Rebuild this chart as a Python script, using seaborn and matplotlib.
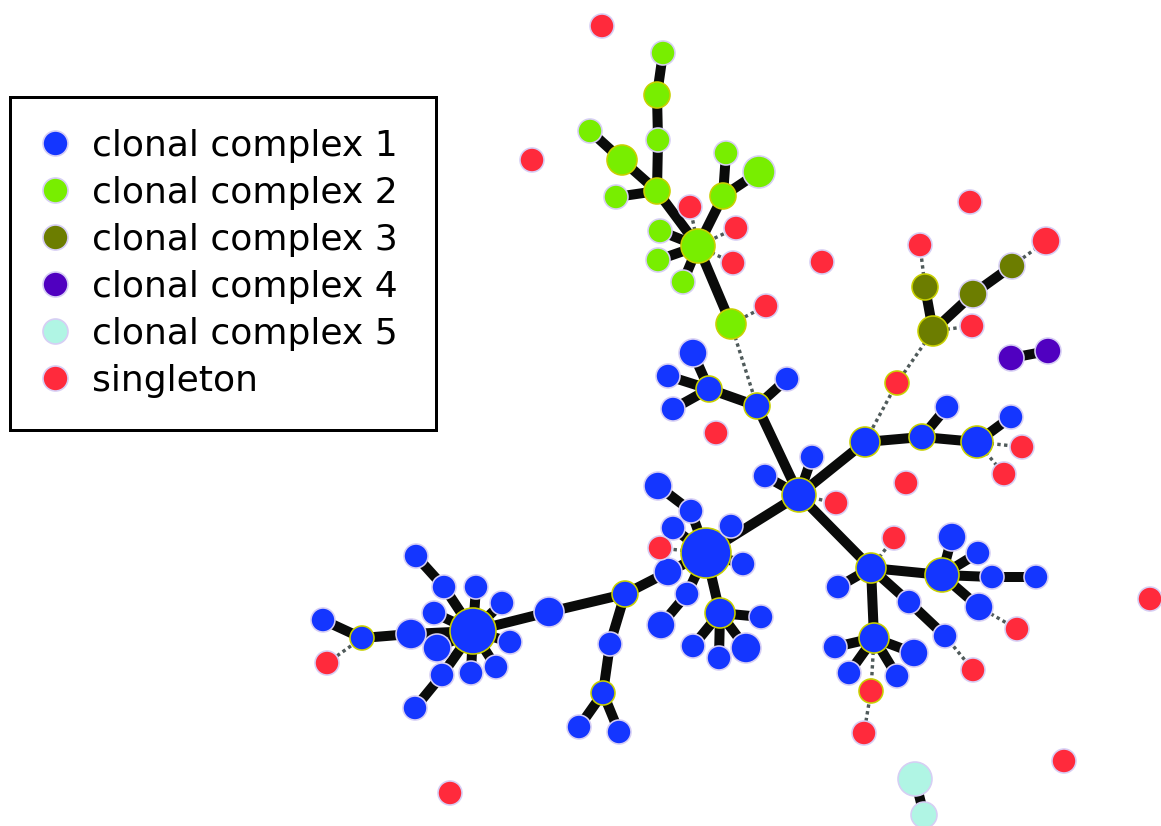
import matplotlib
matplotlib.use("Agg")
import matplotlib.pyplot as plt
from matplotlib.lines import Line2D
import seaborn as sns
import pandas as pd
import numpy as np

# ---------------- data ----------------
groups = ["clonal complex 1", "clonal complex 2", "clonal complex 3",
          "clonal complex 4", "clonal complex 5", "singleton"]
group_colors = ["#1436ff", "#78ee00", "#6c7d00", "#5000c0", "#b0f5e4", "#ff2a3c"]

# node layout (pixel-space layout coordinates), radius, group index, founder ring flag
node_x = [706, 658, 691, 673, 731, 668, 743, 687, 720, 661, 761, 693, 719, 746, 625, 549,
          473, 416, 444, 476, 502, 434, 411, 437, 510, 442, 471, 496, 415, 362, 323, 610,
          603, 579, 619, 799, 765, 812, 757, 787, 709, 693, 668, 673, 865, 922, 947, 977,
          1011, 871, 838, 942, 952, 978, 992, 1036, 979, 909, 945, 874, 835, 914, 849, 897,
          663, 657, 658, 590, 622, 657, 616, 726, 759, 723, 660, 698, 658, 683, 731,
          925, 933, 973, 1012,
          1011, 1048,
          915, 924,
          602, 532, 690, 736, 733, 822, 766, 970, 920, 1046, 972, 897, 716, 906, 1022, 1004,
          836, 660, 894, 1150, 1017, 973, 871, 864, 1064, 450, 327]
node_y = [553, 486, 511, 528, 526, 572, 564, 594, 613, 625, 617, 646, 658, 648, 594, 612,
          631, 556, 587, 587, 603, 613, 634, 648, 642, 675, 673, 667, 708, 638, 620, 644,
          693, 727, 732, 495, 476, 457, 406, 379, 389, 353, 376, 409, 442, 437, 407, 442,
          417, 568, 587, 575, 537, 553, 577, 577, 607, 602, 636, 638, 647, 653, 673, 676,
          53, 95, 140, 131, 160, 191, 197, 153, 172, 196, 231, 246, 260, 282, 324,
          287, 331, 294, 266,
          358, 351,
          779, 815,
          26, 160, 207, 228, 263, 262, 306, 202, 245, 241, 326, 383, 433, 483, 447, 474,
          503, 548, 538, 599, 629, 670, 691, 733, 761, 793, 663]
node_r = [25, 14, 12, 12, 12, 14, 12, 12, 15, 14, 12, 12, 12, 15, 13, 15,
          23, 12, 12, 12, 12, 12, 15, 14, 12, 12, 12, 12, 12, 12, 12, 12,
          12, 12, 12, 17, 12, 12, 13, 12, 13, 14, 12, 12, 15, 13, 12, 16,
          12, 15, 12, 17, 14, 12, 12, 12, 14, 12, 12, 15, 12, 14, 12, 12,
          12, 13, 12, 12, 15, 13, 12, 12, 16, 13, 12, 17, 12, 12, 15,
          13, 15, 14, 13,
          13, 13,
          17, 13,
          12, 12, 12, 12, 12, 12, 12, 12, 12, 14, 12, 12, 12, 12, 12, 12,
          12, 12, 12, 12, 12, 12, 12, 12, 12, 12, 12]
node_group = [0] * 64 + [1] * 15 + [2] * 4 + [3] * 2 + [4] * 2 + [5] * 27
founder = {0, 8, 14, 16, 29, 32, 35, 38, 40, 44, 45, 47, 49, 51, 59,
           65, 68, 69, 73, 75, 78, 79, 80, 98, 109}

# thick links (single-locus variants)
link_src = [2, 1, 3, 4, 5, 6, 7, 8, 7, 8, 8, 8, 8, 0, 14, 14, 15, 17, 18, 19, 20, 21, 22,
            23, 24, 25, 28, 26, 27, 22, 30, 14, 31, 32, 32,
            35, 35, 35, 38, 38, 40, 40, 40, 35, 44, 45, 45, 47,
            35, 49, 49, 51, 51, 51, 54, 51, 49, 57, 49, 59, 59, 59, 59,
            64, 65, 66, 67, 68, 70, 69, 71, 72, 73, 74, 76, 77, 75,
            79, 80, 81, 83, 85]
link_dst = [0, 2, 0, 0, 0, 0, 0, 0, 9, 10, 11, 12, 13, 35, 5, 15, 16, 18, 16, 16, 16, 16, 16,
            16, 16, 16, 25, 16, 16, 29, 29, 31, 32, 33, 34,
            36, 37, 38, 39, 40, 41, 42, 43, 44, 45, 46, 47, 48,
            49, 50, 51, 52, 53, 54, 55, 56, 57, 58, 59, 60, 61, 62, 63,
            65, 66, 69, 68, 69, 69, 75, 73, 73, 75, 75, 75, 75, 78,
            80, 81, 82, 84, 86]
# dotted links (more distant variants)
dot_src = [78, 89, 90, 91, 93, 95, 82, 80, 80, 98, 47, 47, 35, 104, 49, 56, 58, 59, 109, 29]
dot_dst = [38, 75, 75, 75, 78, 79, 96, 97, 98, 44, 101, 102, 103, 0, 105, 107, 108, 109, 110, 113]

# ---------------- frames ----------------
nodes = pd.DataFrame({"x": node_x, "y": node_y, "r": node_r,
                      "group": [groups[g] for g in node_group]})
nodes["ring"] = ["#c8d000" if i in founder else "#d6cef4" for i in range(len(nodes))]


def link_frame(src, dst):
    rows = []
    for k, (a, b) in enumerate(zip(src, dst)):
        rows.append({"link": k, "x": node_x[a], "y": node_y[a], "o": 0})
        rows.append({"link": k, "x": node_x[b], "y": node_y[b], "o": 1})
    return pd.DataFrame(rows)


thick = link_frame(link_src, link_dst)
dotted = link_frame(dot_src, dot_dst)

# ---------------- figure ----------------
sns.set_theme(style="white")
plt.rcParams["font.family"] = ["DejaVu Sans"]
W, H = 1161, 826
fig = plt.figure(figsize=(W / 100, H / 100), dpi=100)
ax = fig.add_axes([0, 0, 1, 1])
ax.set_xlim(0, W)
ax.set_ylim(H, 0)
ax.axis("off")

px = 0.72  # points per pixel
sns.lineplot(data=dotted, x="x", y="y", units="link", estimator=None, sort=False,
             color="#4f5a5a", linewidth=3.4 * px, linestyle=(0, (1, 1)), ax=ax,
             legend=False, zorder=1)
sns.lineplot(data=thick, x="x", y="y", units="link", estimator=None, sort=False,
             color="#0a0b0a", linewidth=10 * px, solid_capstyle="butt", ax=ax,
             legend=False, zorder=2)

sizes = ((2 * nodes["r"].to_numpy() * px) ** 2)
sns.scatterplot(data=nodes, x="x", y="y", hue="group", hue_order=groups,
                palette=dict(zip(groups, group_colors)), s=sizes,
                edgecolor=list(nodes["ring"]), linewidth=1.6 * px, ax=ax,
                legend=False, zorder=3)
ax.set_xlabel("")
ax.set_ylabel("")

handles = [Line2D([], [], linestyle="none", marker="o", markersize=25 * px,
                  markerfacecolor=c, markeredgecolor="#d6cef4", markeredgewidth=1.2)
           for c in group_colors]
x0, y0, x1, y1 = 10, 97, 436, 428
leg = fig.legend(handles, groups, loc="upper left",
                 bbox_to_anchor=(x0 / W, 1 - y1 / H, (x1 - x0) / W, (y1 - y0) / H),
                 mode="expand", borderaxespad=0,
                 fontsize=26, frameon=True, fancybox=False, framealpha=1,
                 edgecolor="black", borderpad=0.88, handlelength=0.73,
                 handletextpad=0.66, labelspacing=0.36, handleheight=0.7)
leg.get_frame().set_linewidth(3 * px)
for t in leg.get_texts():
    t.set_color("#000000")

fig.savefig("out.png", dpi=100)
